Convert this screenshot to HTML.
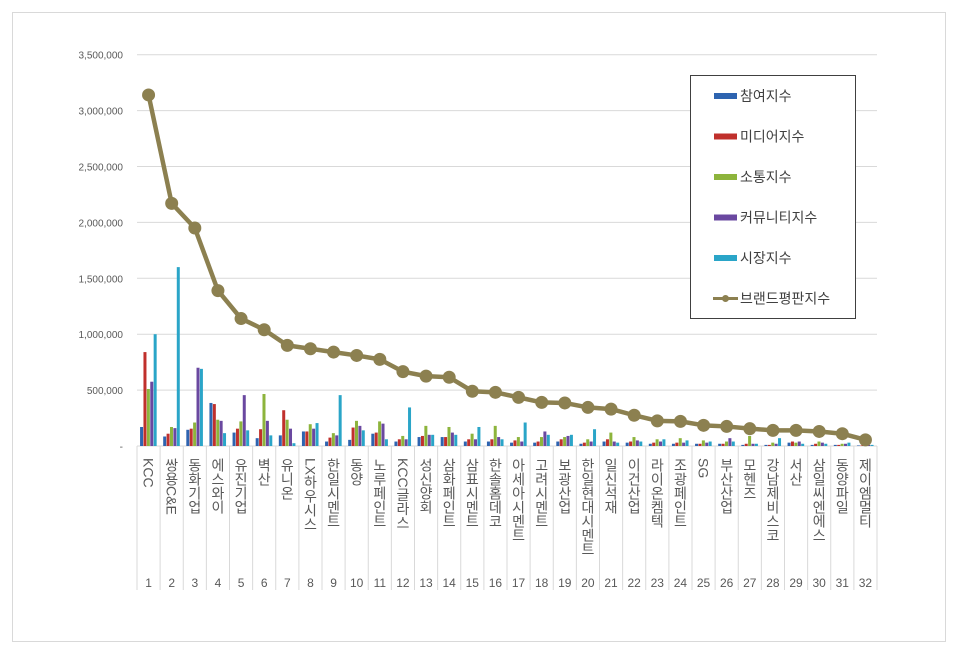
<!DOCTYPE html>
<html><head><meta charset="utf-8">
<style>
body{margin:0;background:#fff;}
svg text{font-family:"Liberation Sans","Noto Sans CJK KR","NanumGothic",sans-serif;}
</style></head>
<body>
<svg id="c" width="960" height="654" xmlns="http://www.w3.org/2000/svg"></svg>
<script>
const NS="http://www.w3.org/2000/svg";
const svg=document.getElementById('c');
function el(t,a,txt){const e=document.createElementNS(NS,t);for(const k in a)e.setAttribute(k,a[k]);if(txt!==undefined)e.textContent=txt;svg.appendChild(e);return e;}
el('rect',{x:0,y:0,width:960,height:654,fill:'#fff'});
el('rect',{x:12.5,y:12.5,width:933,height:629,fill:'none',stroke:'#d9d9d9'});
const X0=137,X1=877,Y0=446,PX=55.9/500000;
const n=32,cw=(X1-X0)/n;
// gridlines
for(let i=0;i<=7;i++){const y=Y0-i*500000*PX;
 if(i>0)el('line',{x1:X0,x2:X1,y1:y,y2:y,stroke:'#d9d9d9'});
 el('text',{x:123,y:y+4,'font-size':10,fill:'#595959','text-anchor':'end'},i==0?'-':(i*500000).toLocaleString('en-US'));}
// category separators
for(let i=0;i<=n;i++){const x=X0+i*cw;el('line',{x1:x,x2:x,y1:Y0,y2:590,stroke:'#d9d9d9'});}
el('line',{x1:X0,x2:X1,y1:Y0,y2:Y0,stroke:'#d9d9d9'});
const names=["KCC","쌍용C&E","동화기업","에스와이","유진기업","벽산","유니온","LX하우시스","한일시멘트","동양","노루페인트","KCC글라스","성신양회","삼화페인트","삼표시멘트","한솔홈데코","아세아시멘트","고려시멘트","보광산업","한일현대시멘트","일신석재","이건산업","라이온켐텍","조광페인트","SG","부산산업","모헨즈","강남제비스코","서산","삼일씨엔에스","동양파일","제이엠멀티"];
const bars=[[170,840,510,575,1000],[85,110,170,160,1600],[145,155,210,700,690],[385,375,235,225,115],[120,155,220,455,140],[70,150,465,225,95],[95,320,235,155,25],[130,130,195,155,205],[40,75,115,95,455],[55,165,225,180,140],[110,120,220,200,60],[40,60,90,60,345],[80,90,180,100,100],[80,80,170,120,100],[40,60,110,60,170],[40,60,180,80,60],[30,50,80,40,210],[30,40,80,130,100],[40,60,80,90,100],[20,30,60,40,150],[40,60,120,40,30],[30,40,80,50,40],[20,30,60,40,60],[20,30,70,30,50],[20,20,50,30,40],[20,20,40,70,40],[10,20,90,20,20],[10,10,30,20,70],[30,40,30,40,20],[10,20,40,30,20],[10,10,20,20,30],[5,5,10,10,10]];
const cols=['#2e64b0','#c0302c','#8db43c','#6a48a0','#2aa5c8'];
const line=[3140,2170,1950,1390,1140,1040,900,870,840,810,775,665,625,615,490,480,435,390,385,345,330,275,225,220,185,175,155,140,140,130,110,55];
for(let i=0;i<n;i++){
 const cx=X0+(i+0.5)*cw;
 for(let j=0;j<5;j++){const h=bars[i][j]*1000*PX;el('rect',{x:cx-8.5+j*3.4,y:Y0-h,width:3,height:h,fill:cols[j]});}
 const t=el('text',{x:cx,y:458,'font-size':14,fill:'#595959','writing-mode':'vertical-rl','text-orientation':'mixed',style:'writing-mode:vertical-rl;text-orientation:mixed'},names[i]);
 el('text',{x:cx,y:587,'font-size':12,fill:'#595959','text-anchor':'middle'},String(i+1));
}
let d='';for(let i=0;i<n;i++){const x=X0+(i+0.5)*cw,y=Y0-line[i]*1000*PX;d+=(i?'L':'M')+x+' '+y;}
el('path',{d:d,fill:'none',stroke:'#8c8050','stroke-width':4.5,'stroke-linejoin':'round'});
for(let i=0;i<n;i++){const x=X0+(i+0.5)*cw,y=Y0-line[i]*1000*PX;el('circle',{cx:x,cy:y,r:6.5,fill:'#8c8050'});}
// legend
el('rect',{x:690.5,y:75.5,width:165,height:243,fill:'#fff',stroke:'#404040'});
const lg=['참여지수','미디어지수','소통지수','커뮤니티지수','시장지수','브랜드평판지수'];
for(let k=0;k<6;k++){const y=96+k*40.5;
 if(k<5)el('rect',{x:714,y:y-3,width:23,height:6,fill:cols[k]});
 else{el('line',{x1:713,x2:738,y1:y,y2:y,stroke:'#8c8050','stroke-width':3});el('circle',{cx:725.5,cy:y,r:3.5,fill:'#8c8050'});}
 el('text',{x:740,y:y+5,'font-size':14,fill:'#404040'},lg[k]);}
</script>
</body></html>
